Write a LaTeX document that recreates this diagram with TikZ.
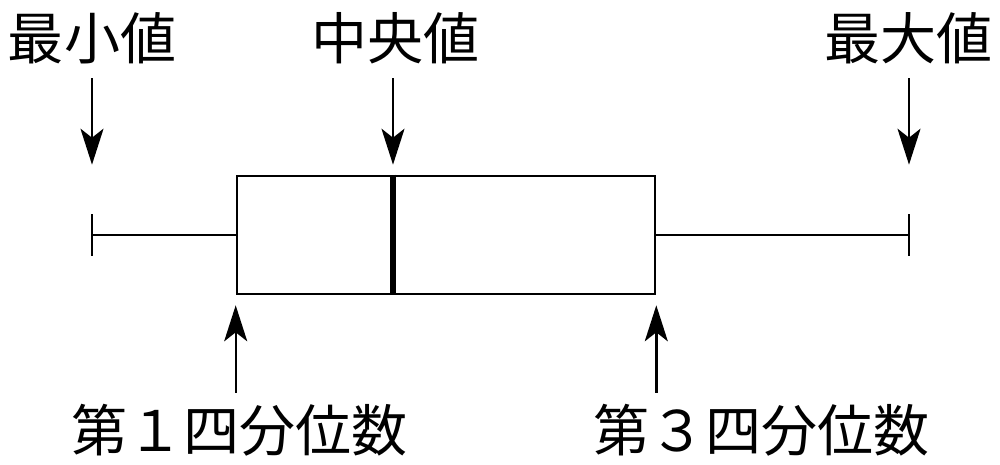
\documentclass[tikz,border=0pt]{standalone}
\usepackage{fontspec}
\newfontfamily\jpfont{Noto Sans CJK JP}
\usetikzlibrary{arrows.meta}

\begin{document}
\begin{tikzpicture}
    [x=1pt,y=-1pt,line width=2.6pt,
     every node/.style={font=\jpfont\fontsize{56pt}{60pt}\selectfont,inner sep=0pt},
     pointer/.style={-{Stealth[length=36pt,width=23pt,inset=9pt]},line width=2.4pt}]
    \useasboundingbox (0,0) rectangle (1000,464);
    \node (minlabel) at (92,38) {最小値};
    \node (medlabel) at (395,38) {中央値};
    \node (maxlabel) at (908,38) {最大値};
    \node (q1label) at (239,430) {第１四分位数};
    \node (q3label) at (761,430) {第３四分位数};
    \node[draw,minimum width=418pt,minimum height=118pt] (box) at (446,235) {};
    \coordinate (lo) at (92,235);
    \coordinate (hi) at (909,235);
    \coordinate (med) at (393,235);
    \draw (lo) -- (box.west) ;
    \draw (box.east) -- (hi) ;
    \draw ([yshift=21pt]lo) -- ([yshift=-21pt]lo) ;
    \draw ([yshift=21pt]hi) -- ([yshift=-21pt]hi) ;
    \draw[line width=6.5pt] (box.north -| med) -- (box.south -| med) ;
    \draw[pointer,shorten <=13pt] (minlabel.south) -- ([yshift=10pt]box.north -| lo) ;
    \draw[pointer,shorten <=13pt] (medlabel.south -| med) -- ([yshift=10pt]box.north -| med) ;
    \draw[pointer,shorten <=13pt] (maxlabel.south -| hi) -- ([yshift=10pt]box.north -| hi) ;
    \draw[pointer,shorten <=10pt] (q1label.north -| box.west) -- ([yshift=-10pt]box.south west) ;
    \draw[pointer,shorten <=10pt] (q3label.north -| box.east) -- ([yshift=-10pt]box.south east) ;
  \end{tikzpicture}
\end{document}
